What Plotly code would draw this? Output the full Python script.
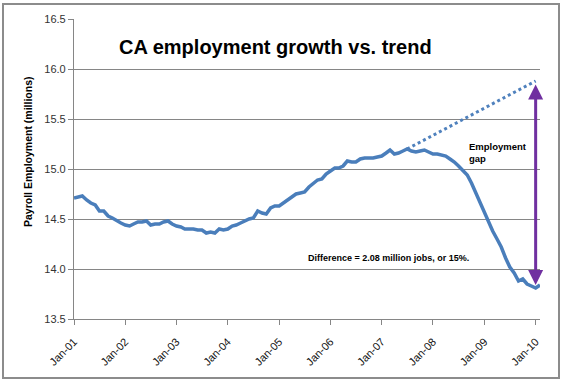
import plotly.graph_objects as go
import pandas as pd

# Monthly CA payroll employment (millions), Jan 2001 .. Feb 2010
emp_2001 = [14.71, 14.72, 14.73, 14.69, 14.66, 14.64, 14.58, 14.58, 14.53, 14.51, 14.48, 14.46]
emp_2002 = [14.44, 14.43, 14.45, 14.47, 14.47, 14.48, 14.44, 14.45, 14.45, 14.47, 14.48, 14.45]
emp_2003 = [14.43, 14.42, 14.40, 14.40, 14.40, 14.39, 14.39, 14.36, 14.37, 14.36, 14.40, 14.39]
emp_2004 = [14.40, 14.43, 14.44, 14.46, 14.48, 14.50, 14.51, 14.58, 14.56, 14.55, 14.61, 14.63]
emp_2005 = [14.63, 14.66, 14.69, 14.72, 14.75, 14.76, 14.77, 14.82, 14.86, 14.89, 14.90, 14.95]
emp_2006 = [14.98, 15.01, 15.01, 15.03, 15.08, 15.07, 15.07, 15.10, 15.11, 15.11, 15.11, 15.12]
emp_2007 = [15.13, 15.16, 15.19, 15.15, 15.16, 15.18, 15.20, 15.18, 15.17, 15.18, 15.19, 15.17]
emp_2008 = [15.15, 15.15, 15.14, 15.13, 15.10, 15.07, 15.03, 14.99, 14.94, 14.86, 14.76, 14.66]
emp_2009 = [14.57, 14.46, 14.38, 14.30, 14.22, 14.11, 14.02, 13.96, 13.88, 13.90, 13.85, 13.83]
emp_2010 = [13.81, 13.84]

employment = emp_2001 + emp_2002 + emp_2003 + emp_2004 + emp_2005 + emp_2006 + emp_2007 + emp_2008 + emp_2009 + emp_2010
months = pd.date_range("2001-01-01", periods=len(employment), freq="MS")

trend_dates = ["2007-07-01", "2010-01-01"]
trend_values = [15.20, 15.88]

gap_date = "2010-01-01"
gap_top = 15.86
gap_bottom = 13.84

tick_dates = [f"{y}-01-01" for y in range(2001, 2011)]
tick_labels = [f"Jan-{str(y)[2:]}" for y in range(2001, 2011)]
y_ticks = [13.5, 14.0, 14.5, 15.0, 15.5, 16.0, 16.5]

FONT = "Liberation Sans, Arial, sans-serif"
BLUE = "#4A7EBB"
PURPLE = "#7030A0"

fig = go.Figure()
fig.add_trace(go.Scatter(x=trend_dates, y=trend_values, mode="lines",
                         line=dict(color="#4F81BD", width=3, dash="dot"), showlegend=False))
fig.add_trace(go.Scatter(x=months, y=employment, mode="lines",
                         line=dict(color=BLUE, width=3.5), showlegend=False))

W, H = 569, 385
L, R, T, B = 74, 29, 19, 66
pw, ph = W - L - R, H - T - B

def px_x(x):
    return (x - L) / pw

def px_y(y):
    return (H - B - y) / ph

fig.update_layout(
    width=W, height=H,
    margin=dict(l=L, r=R, t=T, b=B),
    paper_bgcolor="white", plot_bgcolor="white",
    font=dict(family=FONT, color="#222222"),
    xaxis=dict(
        range=["2001-01-01", "2010-02-01"],
        tickvals=tick_dates, ticktext=tick_labels, tickangle=-45,
        tickfont=dict(size=11, color="#111111"),
        ticklabelstandoff=6,
        showgrid=False, zeroline=False,
        showline=True, linecolor="#868686", linewidth=1.2,
        ticks="outside", ticklen=5, tickcolor="#868686",
    ),
    yaxis=dict(
        range=[13.5, 16.5], tickvals=y_ticks, tickformat=".1f",
        tickfont=dict(size=11, color="#333333"),
        showgrid=True, gridcolor="#868686", gridwidth=1,
        zeroline=False, showline=True, linecolor="#868686", linewidth=1.2,
        ticks="outside", ticklen=5, tickcolor="#868686",
    ),
)

fig.add_shape(type="rect", xref="paper", yref="paper",
              x0=px_x(3), x1=px_x(559), y0=px_y(378), y1=px_y(4),
              line=dict(color="#8C8C8C", width=2), fillcolor="rgba(0,0,0,0)", layer="below")

fig.add_annotation(xref="paper", yref="paper", x=px_x(275), y=px_y(47),
                   text="<b>CA employment growth vs. trend</b>", showarrow=False,
                   font=dict(size=20, color="#000000", family=FONT), xanchor="center", yanchor="middle")

fig.add_annotation(xref="paper", yref="paper", x=px_x(28), y=px_y(152),
                   text="<b>Payroll Employment (millions)</b>", showarrow=False, textangle=-90,
                   font=dict(size=10.5, color="#000000", family=FONT), xanchor="center", yanchor="middle")

fig.add_annotation(xref="paper", yref="paper", x=px_x(467), y=px_y(152),
                   text="<b>Employment<br>gap</b>", showarrow=False, align="left",
                   font=dict(size=9.5, color="#000000", family=FONT), xanchor="left", yanchor="middle")

fig.add_annotation(xref="paper", yref="paper", x=px_x(306), y=px_y(258),
                   text="<b>Difference = 2.08 million jobs, or 15%.</b>", showarrow=False,
                   font=dict(size=9, color="#000000", family=FONT), xanchor="left", yanchor="middle")

fig.add_annotation(x=gap_date, y=gap_bottom, ax=gap_date, ay=gap_top, xref="x", yref="y",
                   axref="x", ayref="y", text="", showarrow=True, arrowside="end+start",
                   arrowhead=2, startarrowhead=2, arrowsize=1, startarrowsize=1,
                   arrowwidth=3, arrowcolor=PURPLE)

fig.write_html("out.html", config={"displayModeBar": False},
               post_script="document.body.style.margin='0';")
